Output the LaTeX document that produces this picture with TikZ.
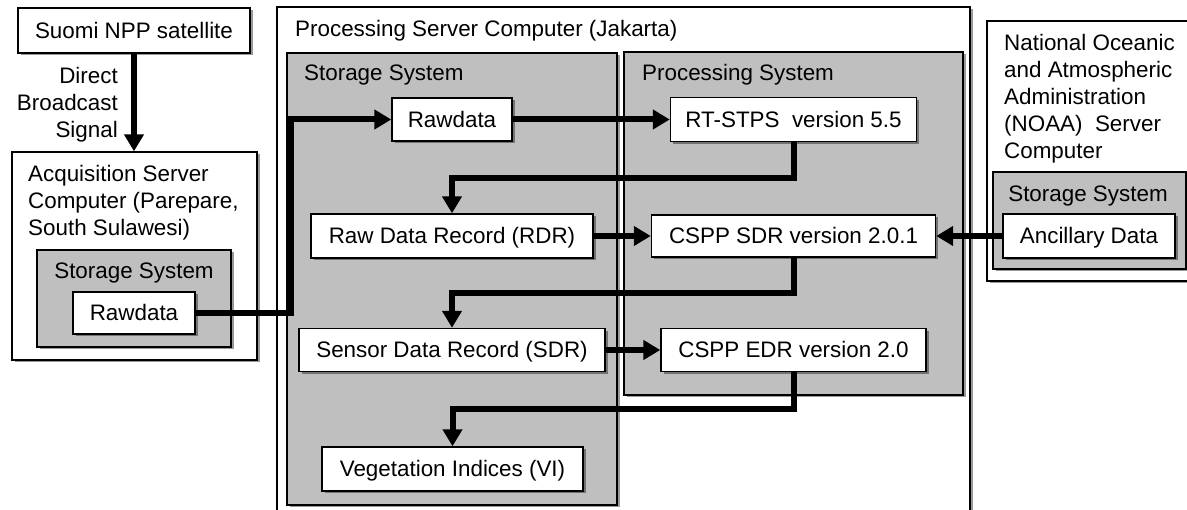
\documentclass[tikz,border=0pt]{standalone}
\usepackage{fontspec}
\setmainfont{Liberation Sans}
\usetikzlibrary{arrows.meta,positioning,shadows}
\definecolor{flowgray}{RGB}{191,191,191}
\definecolor{flowink}{RGB}{0,0,0}
\tikzset{
  flowshadow/.style={drop shadow={shadow xshift=2.5pt, shadow yshift=-2.5pt,
    opacity=0.4, fill=black}},
  flowframe/.style={draw=flowink, line width=1.4pt, fill=white, inner sep=0pt,
    flowshadow},
  flowpanel/.style={flowframe, fill=flowgray},
  flowbox/.style={flowframe, align=center, text height=16pt, text depth=0pt},
  flowtitle/.style={inner sep=0pt, align=left},
  flowline/.style={draw=flowink, line width=6pt},
  flowarrow/.style={flowline, -{Triangle[length=17pt,width=19pt]}},
}

\begin{document}
\begin{tikzpicture}[x=1pt, y=-1pt, font=\fontsize{22.4}{27}\selectfont]
  \useasboundingbox (0,0) rectangle (1187,510);
  % acquisition side
  \node[flowframe, minimum width=245pt, minimum height=208pt] (acq) at (134.5,256) {};
  \node[flowtitle, anchor=base west] (acqtitle) at (28,236)
    {Acquisition Server\\Computer (Parepare,\\South Sulawesi)};
  \node[flowpanel, minimum width=194pt, minimum height=97pt] (acqstore) at (134,298.5) {};
  \node[inner sep=0pt, anchor=base] (acqstoretitle) at (134,279) {Storage System};
  \node[flowbox, minimum width=122pt, minimum height=42pt] (acqraw) at (134,313) {Rawdata};
  \node[flowbox, minimum width=232pt, minimum height=45pt] (sat) at (134,30.5) {Suomi NPP satellite};
  \node[flowtitle, align=right, anchor=base east] (signal) at (118,138) {Direct\\Broadcast\\Signal};
  % processing server (Jakarta)
  \node[flowframe, minimum width=693pt, minimum height=508pt] (jak) at (623.5,261) {};
  \node[flowtitle, anchor=base west] (jaktitle) at (295,37) {Processing Server Computer (Jakarta)};
  \node[flowpanel, minimum width=330pt, minimum height=452pt] (jakstore) at (452,279) {};
  \node[flowtitle, anchor=base west] (jakstoretitle) at (304,81) {Storage System};
  \node[flowpanel, minimum width=339pt, minimum height=343pt] (proc) at (793.5,223.5) {};
  \node[flowtitle, anchor=base west] (proctitle) at (642,81) {Processing System};
  \node[flowbox, minimum width=120pt, minimum height=43pt] (raw) at (452,119.5) {Rawdata};
  \node[flowbox, minimum width=246pt, minimum height=44pt] (rtstps) at (793.5,119.5) {RT-STPS\ \ version 5.5};
  \node[flowbox, minimum width=282pt, minimum height=44pt] (rdr) at (452,236) {Raw Data Record (RDR)};
  \node[flowbox, minimum width=284pt, minimum height=42pt] (csppsdr) at (793.5,236) {CSPP SDR version 2.0.1};
  \node[flowbox, minimum width=306pt, minimum height=43pt] (sdr) at (452,350) {Sensor Data Record (SDR)};
  \node[flowbox, minimum width=265pt, minimum height=43pt] (csppedr) at (793.5,350) {CSPP EDR version 2.0};
  \node[flowbox, minimum width=261pt, minimum height=44pt] (vi) at (452.5,469) {Vegetation Indices (VI)};
  % NOAA server
  \node[flowframe, minimum width=208pt, minimum height=260pt] (noaa) at (1091,151) {};
  \node[flowtitle, anchor=base west] (noaatitle) at (1004,159)
    {National Oceanic\\and Atmospheric\\Administration\\(NOAA)\ \ Server\\Computer};
  \node[flowpanel, minimum width=193pt, minimum height=97pt] (noaastore) at (1089.5,220.5) {};
  \node[inner sep=0pt, anchor=base] (noaastoretitle) at (1088,202) {Storage System};
  \node[flowbox, minimum width=172pt, minimum height=44pt] (anc) at (1089,236) {Ancillary Data};
  % connectors
  \coordinate (uplink) at (291,119.5);
  \coordinate (rdrturn) at (793.5,178);
  \coordinate (sdrturn) at (793.5,293);
  \coordinate (viturn) at (793.5,409);
  \draw[flowarrow] (sat.south) -- (sat.south |- acq.north);
  \draw[flowarrow] (acqraw.east) -| (uplink) -- (raw.west);
  \draw[flowarrow] (raw) -- (rtstps);
  \draw[flowarrow] (rtstps.south) -- (rdrturn) -| (rdr.north);
  \draw[flowarrow] (rdr) -- (csppsdr);
  \draw[flowarrow] (anc) -- (csppsdr);
  \draw[flowarrow] (csppsdr.south) -- (sdrturn) -| (sdr.north);
  \draw[flowarrow] (sdr) -- (csppedr);
  \draw[flowarrow] (csppedr.south) -- (viturn) -| (vi.north);
\end{tikzpicture}
\end{document}
